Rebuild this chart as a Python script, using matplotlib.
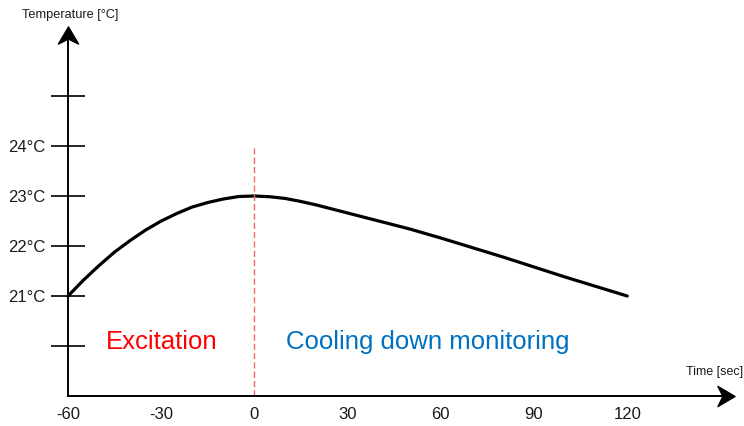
import matplotlib.pyplot as plt
from matplotlib.path import Path

plt.rcParams['font.family'] = ['Liberation Sans', 'DejaVu Sans']

# datos (segundos, grados)
tiempo = [-60, -55, -50, -45, -40, -35, -30, -25, -20, -15, -10, -5, 0,
          5, 10, 15, 20, 25, 30, 40, 50, 60, 70, 80, 90, 100, 110, 120]
temperatura = [21.0, 21.32, 21.61, 21.88, 22.11, 22.32, 22.5, 22.65, 22.78, 22.87, 22.94, 22.99, 23.0,
               22.985, 22.95, 22.89, 22.82, 22.74, 22.66, 22.5, 22.34, 22.16, 21.97, 21.78, 21.58,
               21.38, 21.19, 21.0]

xticks = [-60, -30, 0, 30, 60, 90, 120]
yticks = [20, 21, 22, 23, 24, 25]
ylabels = ['', '21°C', '22°C', '23°C', '24°C', '']

fig = plt.figure(figsize=(7.44, 4.26), dpi=100)
ax = fig.add_axes([0, 0, 1, 1])
ax.set_xlim(-81.9, 157.6)
ax.set_ylim(18.4, 26.92)

# ejes con flechas
for s in ['top', 'right']:
    ax.spines[s].set_visible(False)
ax.spines['left'].set_position(('data', -60))
ax.spines['bottom'].set_position(('data', 19))
ax.spines['left'].set_bounds(19, 26.1)
ax.spines['bottom'].set_bounds(-60, 151)
ax.spines['left'].set_linewidth(1.4)
ax.spines['bottom'].set_linewidth(1.4)

# punta de flecha con la base curvada hacia dentro
punta_arriba = Path([(0, 8.5), (-10, -8.5), (0, -3.5), (10, -8.5), (0, 8.5)],
                    [Path.MOVETO, Path.LINETO, Path.LINETO, Path.LINETO, Path.CLOSEPOLY])
punta_derecha = Path([(8.5, 0), (-8.5, 10), (-3.5, 0), (-8.5, -10), (8.5, 0)],
                     [Path.MOVETO, Path.LINETO, Path.LINETO, Path.LINETO, Path.CLOSEPOLY])
ax.plot([-60], [26.21], marker=punta_arriba, markersize=14.5, color='black', clip_on=False)
ax.plot([151.94], [19], marker=punta_derecha, markersize=14.5, color='black', clip_on=False)

ax.set_yticks(yticks)
ax.set_yticklabels(ylabels)
ax.set_xticks(xticks)
ax.set_xticklabels([str(t) for t in xticks])
ax.tick_params(axis='y', direction='inout', length=24, width=1.2, pad=4, labelsize=12,
               labelcolor='#1a1a1a')
ax.tick_params(axis='x', length=0, pad=8, labelsize=12, labelcolor='#1a1a1a')

# curva de temperatura
ax.plot(tiempo, temperatura, color='black', lw=2.3, solid_capstyle='round',
        solid_joinstyle='round')

# linea de corte en t=0
ax.plot([0, 0], [19, 24.02], color='#f06a6a', lw=1.0, dashes=(4.5, 2.2))

ax.text(-30, 20.08, 'Excitation', color='#ff0000', fontsize=18.5, ha='center', va='center')
ax.text(55.7, 20.08, 'Cooling down monitoring', color='#0070c0', fontsize=18.5,
        ha='center', va='center')

ax.text(-74.8, 26.62, 'Temperature [°C]', fontsize=9.2, color='#1a1a1a', ha='left', va='center')
ax.text(138.9, 19.48, 'Time [sec]', fontsize=9, color='#1a1a1a', ha='left', va='center')

plt.savefig('out.png', dpi=100)
